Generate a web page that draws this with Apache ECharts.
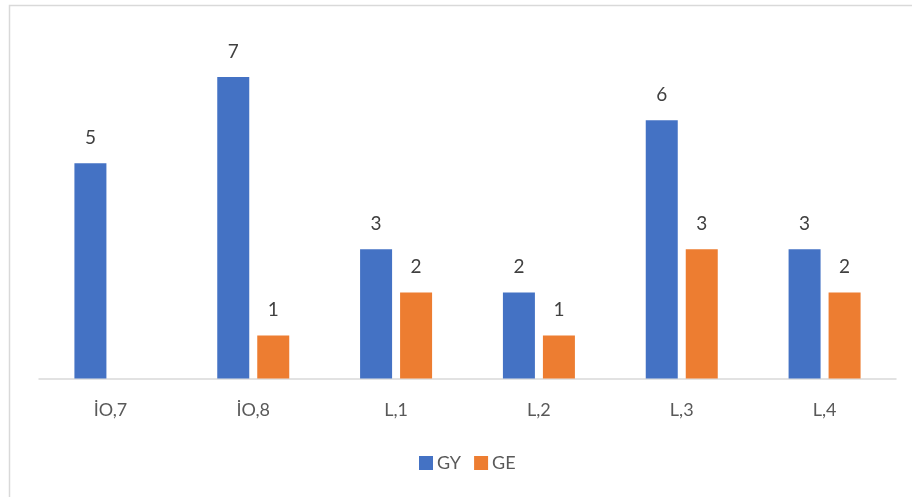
<!DOCTYPE html>
<html>
<head>
<meta charset="utf-8">
<script src="https://cdn.jsdelivr.net/npm/echarts@6/dist/echarts.min.js"></script>
<style>html,body{margin:0;padding:0;background:#fff;}#c{width:912px;height:497px;}</style>
</head>
<body>
<div id="c"></div>
<script>
var categories = ['İO,7', 'İO,8', 'L,1', 'L,2', 'L,3', 'L,4'];
var gyValues = [5, 7, 3, 2, 6, 3];
var geValues = [null, 1, 2, 1, 3, 2];

var chart = echarts.init(document.getElementById('c'));
var labelStyle = { show: true, position: 'top', distance: 16, color: '#404040', fontSize: 19, fontFamily: 'Lato' };
chart.setOption({
  animation: false,
  backgroundColor: '#fff',
  textStyle: { fontFamily: 'Lato' },
  graphic: [{
    type: 'rect',
    shape: { x: 9.5, y: 5.5, width: 1000, height: 1000 },
    style: { fill: 'none', stroke: '#d9d9d9', lineWidth: 1.5 },
    silent: true
  }],
  grid: { left: 39, right: 16, top: 34, bottom: 118.5 },
  legend: {
    left: 419, top: 454, padding: 0,
    itemWidth: 14, itemHeight: 14, itemGap: 13,
    icon: 'rect',
    textStyle: { color: '#595959', fontSize: 18, fontFamily: 'Lato', padding: [0, 0, 0, -1] },
    data: ['GY', 'GE']
  },
  xAxis: {
    type: 'category',
    data: categories,
    axisLine: { lineStyle: { color: '#d9d9d9', width: 1.5 } },
    axisTick: { show: false },
    axisLabel: { color: '#595959', fontSize: 18, fontFamily: 'Lato', margin: 23 }
  },
  yAxis: {
    type: 'value', min: 0, max: 8, interval: 1,
    show: false,
    splitLine: { show: false }
  },
  series: [
    { name: 'GY', type: 'bar', data: gyValues, barWidth: 32, barGap: '25%', itemStyle: { color: '#4472C4' }, label: labelStyle },
    { name: 'GE', type: 'bar', data: geValues, barWidth: 32, barGap: '25%', itemStyle: { color: '#ED7D31' }, label: labelStyle }
  ]
});
</script>
</body>
</html>
